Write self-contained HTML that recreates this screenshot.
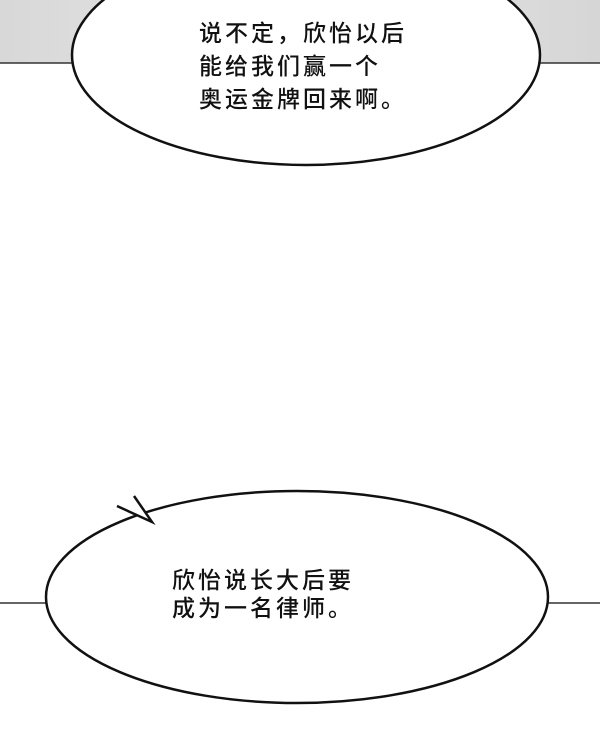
<!DOCTYPE html>
<html><head><meta charset="utf-8"><style>
body{margin:0;width:600px;height:738px;background:#fff;overflow:hidden;position:relative;font-family:"Liberation Sans","Noto Sans CJK SC",sans-serif}
.t{position:absolute;font-size:23px;color:#111;white-space:nowrap;letter-spacing:3px;font-weight:500}
</style></head><body>
<svg width="600" height="738" style="position:absolute;left:0;top:0">
<defs><linearGradient id="g" x1="0" y1="0" x2="1" y2="0">
<stop offset="0" stop-color="#d8d8d8"/><stop offset="0.5" stop-color="#e6e6e6"/><stop offset="1" stop-color="#d6d6d6"/></linearGradient></defs>
<rect x="0" y="0" width="600" height="63" fill="url(#g)"/>
<line x1="0" y1="63" x2="600" y2="63" stroke="#333" stroke-width="1.5"/>
<ellipse cx="306" cy="55" rx="234" ry="110" fill="#fff" stroke="#111" stroke-width="2.5"/>
<line x1="0" y1="603" x2="600" y2="603" stroke="#333" stroke-width="1.5"/>
<ellipse cx="297" cy="597" rx="251" ry="106" fill="#fff" stroke="#111" stroke-width="2.5"/>
<polygon points="117,506 152,522 134,496 136,505 120,512" fill="#fff"/>
<polyline points="117,506 152,522 134,496" fill="none" stroke="#111" stroke-width="2.5" stroke-linejoin="miter"/>
</svg>
<div class="t" style="left:199px;top:17px;line-height:33px">说不定，欣怡以后<br>能给我们赢一个<br>奥运金牌回来啊。</div>
<div class="t" style="left:172px;top:566px;line-height:28px">欣怡说长大后要<br>成为一名律师。</div>
</body></html>
